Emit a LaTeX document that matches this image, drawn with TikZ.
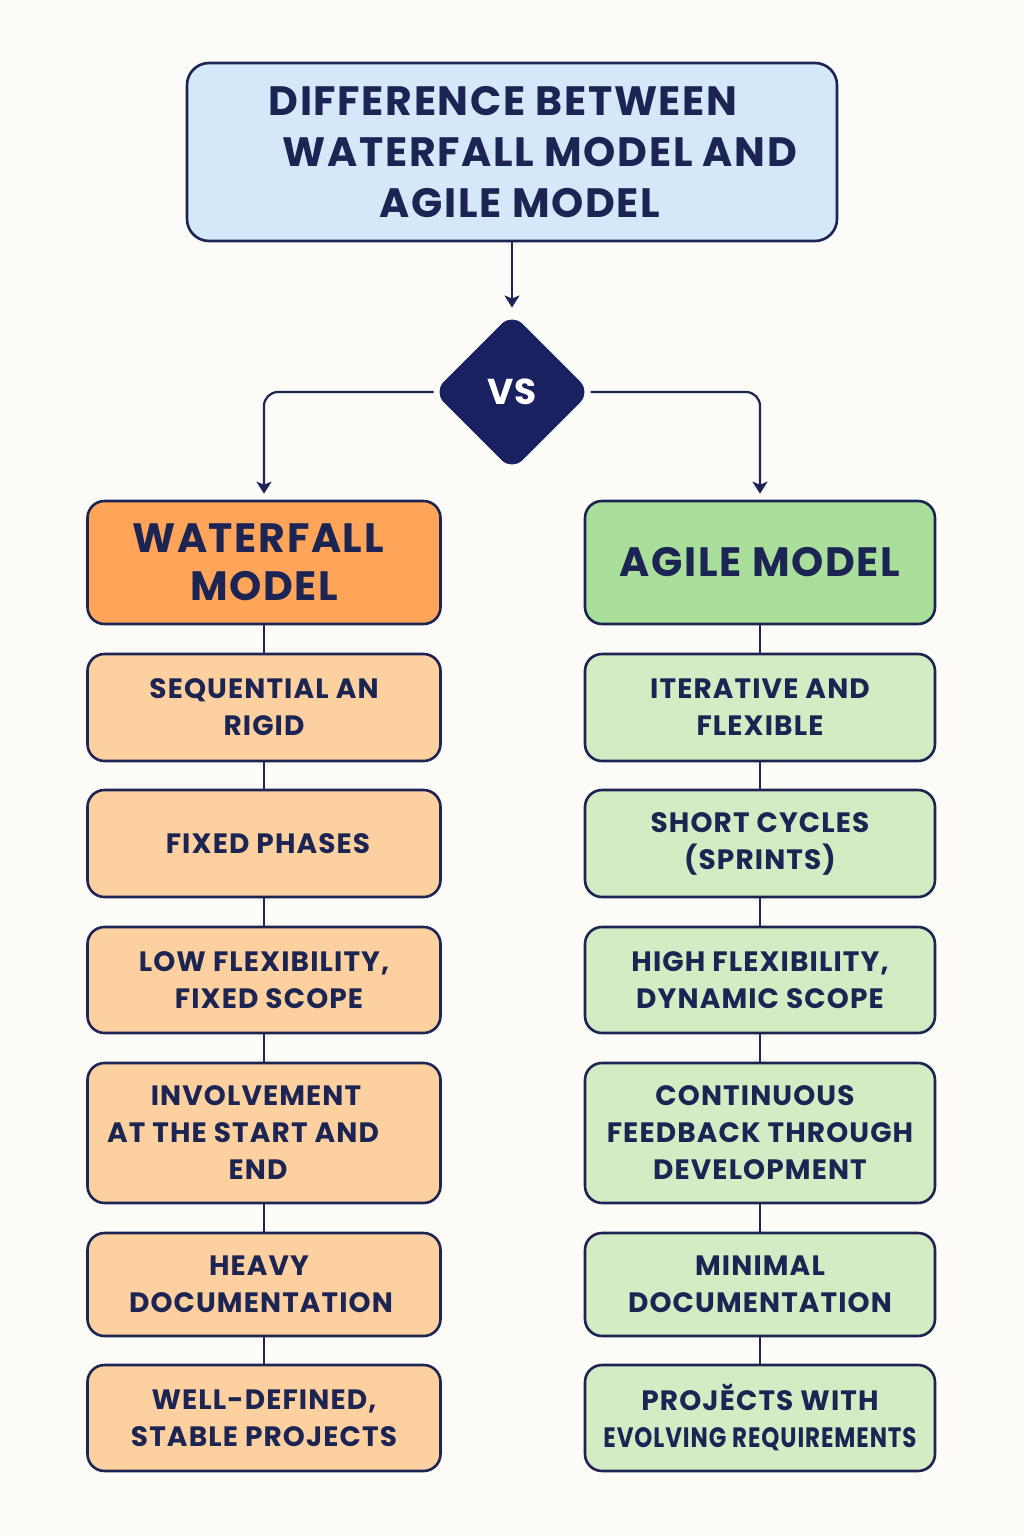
\documentclass[tikz,border=0pt]{standalone}
\usepackage{fontspec}
\setmainfont{Poppins}[UprightFont=* Bold, BoldFont=* Bold, LetterSpace=4]
\usetikzlibrary{shapes.geometric,arrows.meta}

\definecolor{navy}{HTML}{1B2452}
\definecolor{vsfill}{HTML}{1A2160}
\definecolor{paper}{HTML}{FCFBF8}
\definecolor{titlefill}{HTML}{D4E8F9}
\definecolor{wfhead}{HTML}{FFA55A}
\definecolor{wfitem}{HTML}{FDD09F}
\definecolor{aghead}{HTML}{A9DF9A}
\definecolor{agitem}{HTML}{D5EBC4}

\tikzset{
  card/.style={draw=navy, line width=2.6pt, rounded corners=17pt, align=center,
    text=navy, inner sep=0pt, font=\fontsize{28}{37}\selectfont},
  titlecard/.style={card, fill=titlefill, rounded corners=22pt,
    minimum width=650, minimum height=178, font=\fontsize{41}{51}\selectfont},
  headcard/.style={card, minimum width=353, minimum height=123,
    font=\fontsize{41}{48}\selectfont},
  wfbox/.style={card, fill=wfitem, minimum width=353},
  agbox/.style={card, fill=agitem, minimum width=350},
  conn/.style={draw=navy, line width=2.2pt},
  arrowconn/.style={conn, -{Stealth[length=12pt,width=15pt,inset=3pt]}, shorten >=6pt},
  vsmark/.style={diamond, aspect=1, minimum width=156, minimum height=156, inner sep=0pt,
    fill=vsfill, draw=vsfill, line width=1pt, rounded corners=14pt, text=white,
    font=\fontsize{36}{40}\selectfont}
}

\begin{document}
\begin{tikzpicture}[x=1pt,y=-1pt]
  % page
  \fill[paper] (0,0) rectangle (1024,1536);
  \useasboundingbox (0,0) rectangle (1024,1536);

  % heading and the versus mark
  \node[titlecard] (title) at (512,152) {DIFFERENCE BETWEEN\hspace*{18pt}\\\hspace*{56pt}WATERFALL MODEL AND\\\hspace*{16pt}AGILE MODEL};
  \node[vsmark] (vs) at (512,392) {VS};

  % column heads
  \node[headcard, fill=wfhead] (wh) at (264,562.5) {WATERFALL\hspace*{12pt}\\MODEL};
  \node[headcard, fill=aghead, minimum width=350] (ah) at (760,562.5) {AGILE MODEL};

  % waterfall column
  \node[wfbox, minimum height=107] (w1) at (264,707.5) {SEQUENTIAL AN\\RIGID};
  \node[wfbox, minimum height=107] (w2) at (264,843.5) {\hspace*{8pt}FIXED PHASES};
  \node[wfbox, minimum height=106] (w3) at (264,980) {LOW FLEXIBILITY,\\\hspace*{10pt}FIXED SCOPE};
  \node[wfbox, minimum height=140] (w4) at (264,1133) {INVOLVEMENT\hspace*{16pt}\\\makebox[0pt]{\hspace*{-42pt}AT THE START AND}\\END\hspace*{12pt}};
  \node[wfbox, minimum height=103] (w5) at (264,1284.5) {HEAVY\hspace*{10pt}\\DOCUMENTATION\hspace*{6pt}};
  \node[wfbox, minimum height=106] (w6) at (264,1418) {WELL-DEFINED,\\STABLE PROJECTS};

  % agile column
  \node[agbox, minimum height=107] (a1) at (760,707.5) {ITERATIVE AND\\FLEXIBLE};
  \node[agbox, minimum height=107] (a2) at (760,843.5) {SHORT CYCLES\\(SPRINTS)};
  \node[agbox, minimum height=106] (a3) at (760,980) {HIGH FLEXIBILITY,\\DYNAMIC SCOPE};
  \node[agbox, minimum height=140] (a4) at (760,1133) {CONTINUOUS\hspace*{10pt}\\FEEDBACK THROUGH\\DEVELOPMENT};
  \node[agbox, minimum height=103] (a5) at (760,1284.5) {MINIMAL\\DOCUMENTATION};
  \node[agbox, minimum height=106] (a6) at (760,1418) {PROJĔCTS WITH\\\scalebox{0.82}[1]{EVOLVING REQUIREMENTS}};

  % connectors
  \draw[arrowconn] (title) -- (vs);
  \draw[arrowconn, rounded corners=14pt] (vs.west) -| (wh.north);
  \draw[arrowconn, rounded corners=14pt] (vs.east) -| (ah.north);

  \foreach \u/\v in {wh/w1, w1/w2, w2/w3, w3/w4, w4/w5, w5/w6,
                     ah/a1, a1/a2, a2/a3, a3/a4, a4/a5, a5/a6}
    \draw[conn] (\u) -- (\v);
\end{tikzpicture}
\end{document}
